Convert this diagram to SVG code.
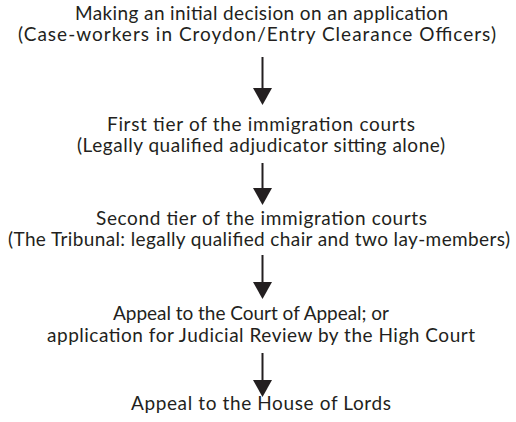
<svg xmlns="http://www.w3.org/2000/svg" width="516" height="422" viewBox="0 0 516 422">
  <style>
    .lbl { font-family: Lato, "Liberation Sans", sans-serif; font-size: 19px; fill: #231f20; text-anchor: middle; }
    .conn { stroke: #231f20; stroke-width: 2; fill: none; }
  </style>
  <defs>
    <marker id="head" viewBox="0 0 17 19" refX="7" refY="9.5" markerWidth="17" markerHeight="19" markerUnits="userSpaceOnUse" orient="auto">
      <path d="M0,0 L17,9.5 L0,19 z" fill="#231f20"/>
    </marker>
  </defs>
  <rect width="516" height="422" fill="#ffffff"/>

  <g id="connectors">
    <line class="conn" x1="262.5" y1="57" x2="262.5" y2="95" marker-end="url(#head)"/>
    <line class="conn" x1="262.5" y1="163" x2="262.5" y2="195" marker-end="url(#head)"/>
    <line class="conn" x1="262.5" y1="255" x2="262.5" y2="289" marker-end="url(#head)"/>
    <line class="conn" x1="262.5" y1="353" x2="262.5" y2="387" marker-end="url(#head)"/>
  </g>

  <g id="initial-decision">
    <text class="lbl" x="261.5" y="20" textLength="373">Making an initial decision on an application</text>
    <text class="lbl" x="257" y="41" textLength="478">(Case-workers in Croydon/Entry Clearance Officers)</text>
  </g>

  <g id="first-tier">
    <text class="lbl" x="261" y="131" textLength="308">First tier of the immigration courts</text>
    <text class="lbl" x="261" y="152" textLength="368">(Legally qualified adjudicator sitting alone)</text>
  </g>

  <g id="second-tier">
    <text class="lbl" x="261.5" y="225" textLength="331">Second tier of the immigration courts</text>
    <text class="lbl" x="259" y="246" textLength="502">(The Tribunal: legally qualified chair and two lay-members)</text>
  </g>

  <g id="court-of-appeal">
    <text class="lbl" x="251" y="320" textLength="276">Appeal to the Court of Appeal; or</text>
    <text class="lbl" x="261" y="342" textLength="428">application for Judicial Review by the High Court</text>
  </g>

  <g id="house-of-lords">
    <text class="lbl" x="261" y="410" textLength="260">Appeal to the House of Lords</text>
  </g>
</svg>
